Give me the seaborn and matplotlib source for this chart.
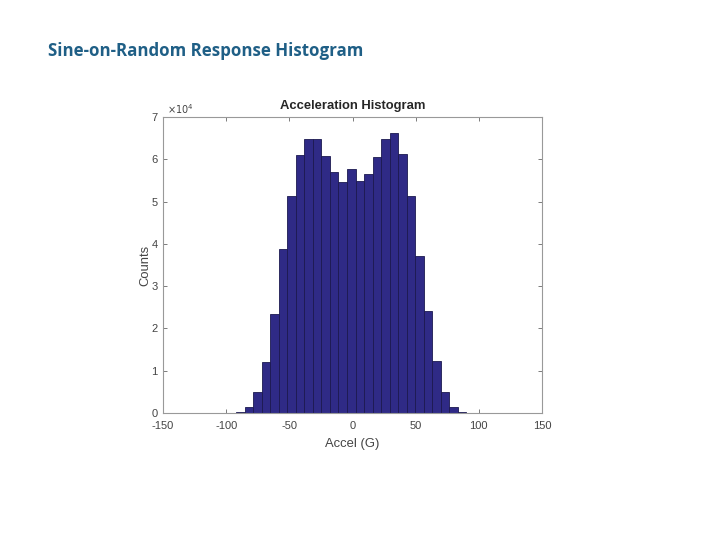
import numpy as np
import pandas as pd
import matplotlib.pyplot as plt
import seaborn as sns

# ── data (counts per bin, x10^4) ────────────────────────────
counts_e4 = [0.02, 0.14, 0.49, 1.21, 2.35, 3.88, 5.14, 6.11, 6.49, 6.47,
             6.08, 5.70, 5.46, 5.77, 5.49, 5.65, 6.06, 6.47, 6.61, 6.13,
             5.12, 3.71, 2.41, 1.24, 0.49, 0.15, 0.03, 0.005]
bin_lo, bin_hi = -92.1, 96.9
x_ticks = [-150, -100, -50, 0, 50, 100, 150]
y_ticks = [0, 1, 2, 3, 4, 5, 6, 7]

counts = np.array(counts_e4) * 1e4
edges = np.linspace(bin_lo, bin_hi, len(counts) + 1)
centers = (edges[:-1] + edges[1:]) / 2
df = pd.DataFrame({'accel': centers, 'count': counts})

sns.set_style("white")
plt.rcParams['font.family'] = ['Liberation Sans', 'DejaVu Sans']

fig = plt.figure(figsize=(7.2, 5.4), dpi=100)
ax = fig.add_axes([163/720, 1 - 413/540, 379/720, 296/540])

sns.histplot(data=df, x='accel', weights='count', bins=edges.tolist(),
             color='#2f2a86', edgecolor='#1c1950', linewidth=0.6, alpha=1, ax=ax)

ax.set_xlim(-150, 150)
ax.set_ylim(0, 70000)
ax.set_xticks(x_ticks)
ax.set_xticklabels([str(t) for t in x_ticks], fontsize=8, color='#444444')
ax.set_yticks([t * 1e4 for t in y_ticks])
ax.set_yticklabels([str(t) for t in y_ticks], fontsize=8, color='#444444')
ax.tick_params(direction='in', length=3, width=0.6, color='#666666',
               top=True, right=True, bottom=True, left=True)
ax.tick_params(axis='x', pad=6)
ax.tick_params(axis='y', pad=4)
for s in ax.spines.values():
    s.set_color('#999999')
    s.set_linewidth(0.8)

ax.set_xlabel('Accel (G)', fontsize=9.4, color='#444444', labelpad=5)
ax.set_ylabel('Counts', fontsize=9.4, color='#444444', labelpad=0)
ax.set_title('Acceleration Histogram', fontsize=9.4, fontweight='bold', pad=6)
ax.text(0.01, 1.005, r'$\times10^{4}$', transform=ax.transAxes,
        fontsize=7, color='#444444', va='bottom', ha='left')

# slide heading
fig.text(48/720, 1 - 51/540, 'Sine-on-Random Response Histogram',
         fontsize=12.2, fontweight='bold', color='#1f5f86',
         family=['Open Sans', 'DejaVu Sans'], va='center', ha='left')

plt.savefig('out.png', dpi=100)
